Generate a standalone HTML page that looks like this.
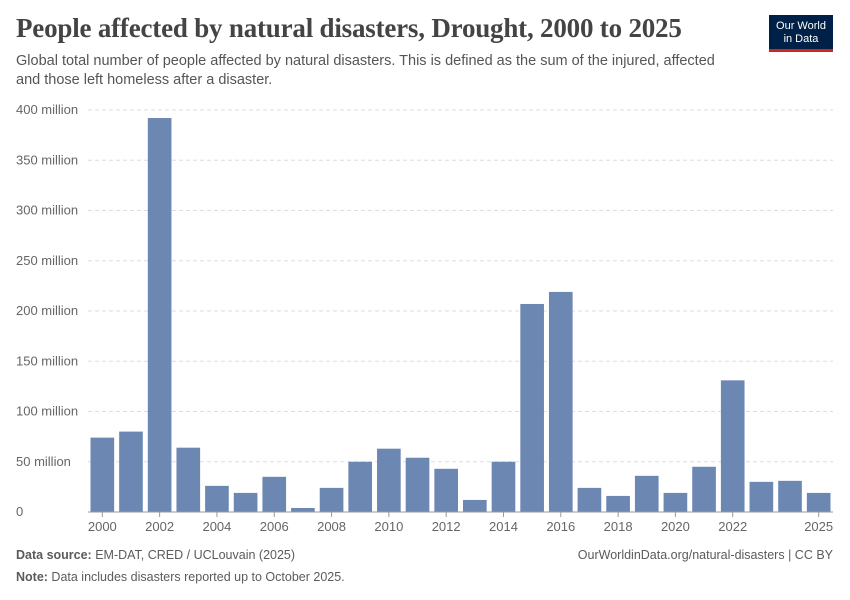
<!DOCTYPE html>
<html><head><meta charset="utf-8">
<style>
body{margin:0;width:850px;height:600px;background:#fff;font-family:"Liberation Sans",sans-serif;overflow:hidden;position:relative}
.title{position:absolute;left:16px;top:13px;font-family:"Liberation Serif",serif;font-size:27px;color:#444;font-weight:bold;letter-spacing:-0.2px}
.sub{position:absolute;left:16px;top:52px;font-size:14.5px;color:#555;line-height:19px;width:718px}
.logo{position:absolute;left:769px;top:15px;width:64px;height:37px;background:#002147;color:#fff;font-size:11px;text-align:center;line-height:13px;box-sizing:border-box;padding-top:5px;border-bottom:3px solid #ce261e}
.foot{position:absolute;font-size:12.5px;color:#5b5b5b}
</style></head><body>
<div class="title">People affected by natural disasters, Drought, 2000 to 2025</div>
<div class="sub">Global total number of people affected by natural disasters. This is defined as the sum of the injured, affected and those left homeless after a disaster.</div>
<div class="logo">Our World<br>in Data</div>
<svg id="chart" width="850" height="600" style="position:absolute;left:0;top:0"></svg>
<div class="foot" style="left:16px;top:548px"><b>Data source:</b> EM-DAT, CRED / UCLouvain (2025)</div>
<div class="foot" style="right:17px;top:548px">OurWorldinData.org/natural-disasters | CC BY</div>
<div class="foot" style="left:16px;top:570px"><b>Note:</b> Data includes disasters reported up to October 2025.</div>
<script>
const years=[2000,2001,2002,2003,2004,2005,2006,2007,2008,2009,2010,2011,2012,2013,2014,2015,2016,2017,2018,2019,2020,2021,2022,2023,2024,2025];
const values=[74,80,392,64,26,19,35,4,24,50,63,54,43,12,50,207,219,24,16,36,19,45,131,30,31,19];
const yTicks=[0,50,100,150,200,250,300,350,400];
const xTickYears=[2000,2002,2004,2006,2008,2010,2012,2014,2016,2018,2020,2022,2025];
const svg=document.getElementById('chart');const NS='http://www.w3.org/2000/svg';
const x0=88,x1=833,y0=512,yTop=110;
const y=v=>y0-(v/400)*(y0-yTop);
const band=(x1-x0)/years.length;
const x=yr=>x0+(yr-years[0])*band;
function mk(t,a){const e=document.createElementNS(NS,t);for(const k in a)e.setAttribute(k,a[k]);svg.appendChild(e);return e;}
yTicks.forEach(v=>{
 if(v>0){const l=mk('line',{x1:x0,x2:x1,y1:y(v),y2:y(v),stroke:'#ddd','stroke-dasharray':'4,3'});
 
 }
 const t=mk('text',{x:16,y:y(v)+4,'font-size':'13',fill:'#666','font-family':'Liberation Sans'});
 t.textContent=v===0?'0':v+' million';
 
 
});
years.forEach((yr,i)=>{
 const r=mk('rect',{x:x(yr)+2.5,y:y(values[i]),width:band-5,height:y0-y(values[i]),fill:'#6d87b3'});
 
 
});
const ax=mk('line',{x1:x0,x2:x1,y1:y0,y2:y0,stroke:'#999'});


xTickYears.forEach(yr=>{
 const cx=x(yr)+band/2;
 const tk=mk('line',{x1:cx,x2:cx,y1:y0,y2:y0+5,stroke:'#999'});
 
 
 const t=mk('text',{x:cx,y:y0+19,'font-size':'13',fill:'#666','text-anchor':'middle','font-family':'Liberation Sans'});
 t.textContent=yr;
 
 
});
</script>
</body></html>
